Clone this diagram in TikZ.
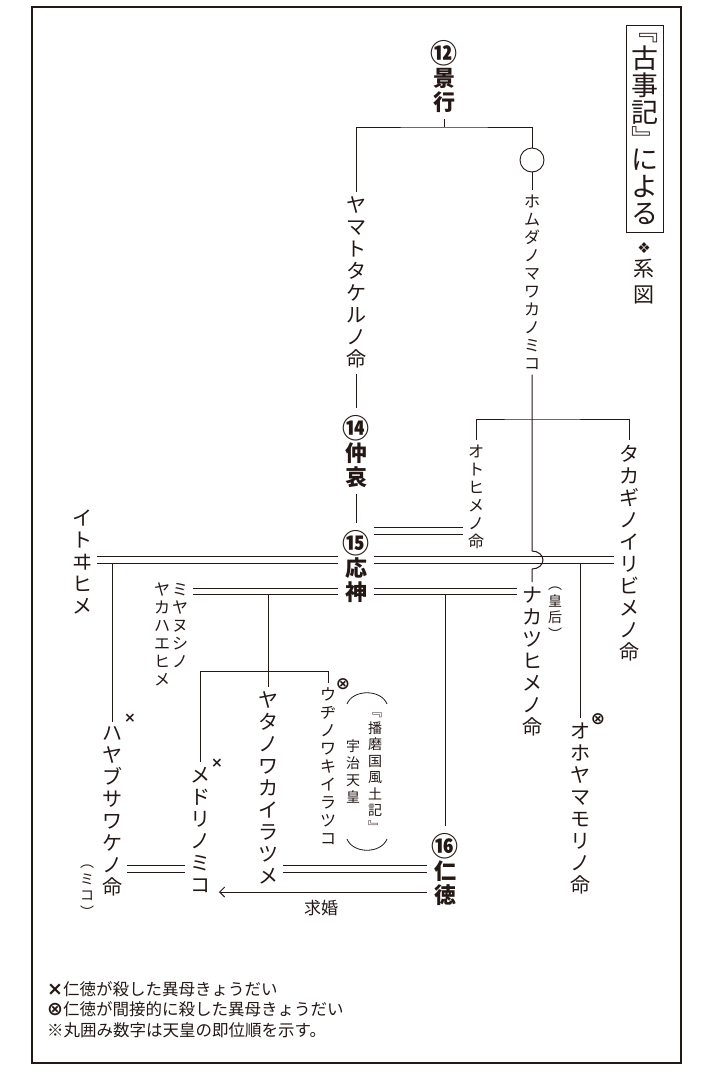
\documentclass[tikz,border=0pt]{standalone}
\usepackage{fontspec}
\setmainfont{Noto Sans CJK JP}
\newfontfamily\dejavu{DejaVu Sans}
\usetikzlibrary{arrows.meta, positioning}
\definecolor{ink}{HTML}{231815}

% one character per line, for vertical names
\makeatletter
\def\vt@end{\vt@end}
\def\vtkern{\relax}
\def\vt@loop#1{%
  \ifx\vt@end#1\else
    \ifx\vtkern#1\vskip-.3\baselineskip\else\hbox to 1em{\hss#1\hss}\fi
    \expandafter\vt@loop
  \fi}
\newcommand\vt[1]{\vtop{\lineskiplimit=-\maxdimen\vt@loop#1\vt@end}}
% emperor: larger circled number on top
\newcommand\tennov[2]{\vtop{\lineskiplimit=-\maxdimen
  \hbox to 1em{\hss{\fontsize{27}{27}\selectfont#1}\hss}\vt@loop#2\vt@end}}
\makeatother
\newcommand\legmark[1]{{\dejavu\bfseries\fontsize{19}{19}\selectfont#1}}

\begin{document}
\begin{tikzpicture}[x=1pt, y=-1pt,
  kin/.style={draw=ink, line width=1pt},
  marriage/.style={draw=ink, line width=.9pt, double=white, double distance=5.5pt},
  vcol/.style={anchor=north, inner sep=0pt, text=ink},
  person/.style={vcol, outer sep=5pt, yshift=5pt, font=\fontsize{20}{22}\selectfont},
  minor/.style={vcol, outer sep=5pt, yshift=5pt, font=\fontsize{16}{18}\selectfont},
  aside/.style={vcol, font=\fontsize{14}{16.5}\selectfont},
  tenno/.style={vcol, outer sep=7pt, yshift=7pt, font=\bfseries\fontsize{22}{23.5}\selectfont},
  slain/.style={inner sep=0pt, text=ink, font=\dejavu\bfseries\fontsize{14}{14}\selectfont},
  slainless/.style={slain, font=\dejavu\bfseries\fontsize{17}{17}\selectfont}]
  \useasboundingbox (0,0) rectangle (714,1072);
  \draw[ink, line width=1.8pt] (32,7) rectangle (681,1063);

  % title
  \node[vcol, draw=ink, line width=1.2pt, inner xsep=5pt, inner ysep=8pt,
    font=\fontsize{27}{27.3}\selectfont] (title) at (645,25) {\vt{﹃古事記﹄\vtkern による}};
  \node[vcol, font=\dejavu\fontsize{15}{15}\selectfont] (mark) at (644,242) {❖};
  \node[vcol, font=\fontsize{21}{26}\selectfont, below=6pt of mark] (keizu) {\vt{系図}};

  % people
  \node[tenno] (keiko) at (444,40) {\tennov{⑫}{景行}};
  \node[circle, draw=ink, line width=.9pt, minimum size=24pt, inner sep=0pt] (mother) at (532,160) {};
  \node[person] (yamato) at (356,197) {\vt{ヤマトタケルノ命}};
  \node[minor] (homuda) at (532,195) {\vt{ホムダノマワカノミコ}};
  \node[tenno] (chuai) at (356,415) {\tennov{⑭}{仲哀}};
  \node[tenno] (ojin) at (356,530) {\tennov{⑮}{応神}};
  \node[minor] (otohime) at (476,445) {\vt{オトヒメノ命}};
  \node[person] (takagi) at (629,445) {\vt{タカギノイリビメノ命}};
  \node[person] (itowi) at (82,510) {\vt{イトヰヒメ}};
  \node[minor] (miyanushi) at (171,583) {\vt{ヤカハエヒメ}\kern2pt\vt{ミヤヌシノ}};
  \node[person] (nakatsu) at (532,587) {\vt{ナカツヒメノ命}};
  \node[aside] (kogo) at (555,587) {\vt{︵皇后︶}};
  \node[person] (ohoyama) at (580,723) {\vt{オホヤマモリノ命}};
  \node[person] (hayabusa) at (112,727) {\vt{ハヤブサワケノ命}};
  \node[aside] (miko) at (87,865) {\vt{︵ミコ︶}};
  \node[person] (medori) at (200,767) {\vt{メドリノミコ}};
  \node[person] (yata) at (268,692) {\vt{ヤタノワカイラツメ}};
  \node[minor] (uji) at (328,688) {\vt{ウヂノワキイラツコ}};
  \node[aside] (harima) at (375,713) {\vt{﹃播磨国風土記﹄}};
  \node[aside, font=\fontsize{14}{17}\selectfont] (ujitenno) at (353,740) {\vt{宇治天皇}};
  \node[tenno] (nintoku) at (445,833) {\tennov{⑯}{仁徳}};

  % killed by nintoku
  \node[slain] (kHayabusa) at ([shift={(18,-4)}]hayabusa.north) {×};
  \node[slain] (kMedori) at ([shift={(17,1)}]medori.north) {×};
  \node[slainless] (kUji) at ([shift={(15,1)}]uji.north) {⊗};
  \node[slainless] (kOhoyama) at ([shift={(18,1)}]ohoyama.north) {⊗};

  % rows of the marriage lines
  \coordinate (wedO) at (0,531);
  \coordinate (wedI) at (0,560);
  \coordinate (wedM) at (0,591.5);
  \coordinate (wedL) at (0,869);
  \coordinate (wooing) at (0,892);

  % descent
  \coordinate (kj) at (keiko.south |- 0,127);
  \draw[kin] (keiko.south) -- (kj);
  \draw[kin] (yamato.north) |- (kj) -| (mother.north);
  \draw[kin] (mother.south) -- (homuda.north);
  \draw[kin] (yamato.south) -- (chuai.north);
  \draw[kin] (chuai.south) -- (ojin.north);
  \coordinate (dau) at (homuda.south |- 0,419);
  \draw[kin] (otohime.north) |- (dau) -| (takagi.north);
  \draw[kin] (hayabusa.north) -- (hayabusa.north |- wedI);
  \draw[kin] (ohoyama.north) -- (ohoyama.north |- wedI);
  \draw[kin] (yata.north) -- (yata.north |- wedM);
  \draw[kin] (nintoku.north) -- (nintoku.north |- wedM);
  \coordinate (sibs) at (yata.north |- 0,671);
  \draw[kin] (medori.north) |- (sibs) -| (uji.north);

  % marriages
  \draw[marriage] (ojin.east |- wedO) -- (otohime.west |- wedO);
  \draw[marriage] (ojin.east |- wedI) -- (takagi.west |- wedI);
  \draw[marriage] (ojin.west |- wedI) -- (itowi.east |- wedI);
  \draw[marriage] (ojin.west |- wedM) -- (miyanushi.east |- wedM);
  \draw[marriage] (ojin.east |- wedM) -- (nakatsu.west |- wedM);
  \draw[marriage, double distance=6.5pt] (hayabusa.east |- wedL) -- (medori.west |- wedL);
  \draw[marriage, double distance=6.5pt] (yata.east |- wedL) -- (nintoku.west |- wedL);

  % homuda line hops over the marriage line
  \coordinate (hopA) at (homuda.south |- 0,551);
  \draw[kin] (homuda.south) -- (hopA)
    arc[start angle=-90, end angle=90, x radius=11, y radius=9] -- (nakatsu.north);

  % proposal
  \draw[kin, shorten >=4pt, -{Straight Barb[length=5pt, width=10pt]}]
    (nintoku.west |- wooing) -- node[below=4pt, text=ink, font=\fontsize{17}{17}\selectfont] (kyukon) {求婚}
    (medori.east |- wooing);

  % brackets round the fudoki note
  \draw[kin, line width=.8pt] (347,704) .. controls (353,689) and (381,689) .. (387,704);
  \draw[kin, line width=.8pt] (347,839) .. controls (353,854) and (381,854) .. (387,839);

  % legend
  \node[anchor=north west, inner sep=0pt, align=left, text=ink,
    font=\fontsize{16.5}{20.5}\selectfont] (legend) at (47,981)
    {\legmark{×}仁徳が殺した異母きょうだい\\
     \legmark{⊗}仁徳が間接的に殺した異母きょうだい\\
     ※丸囲み数字は天皇の即位順を示す。};
\end{tikzpicture}
\end{document}
